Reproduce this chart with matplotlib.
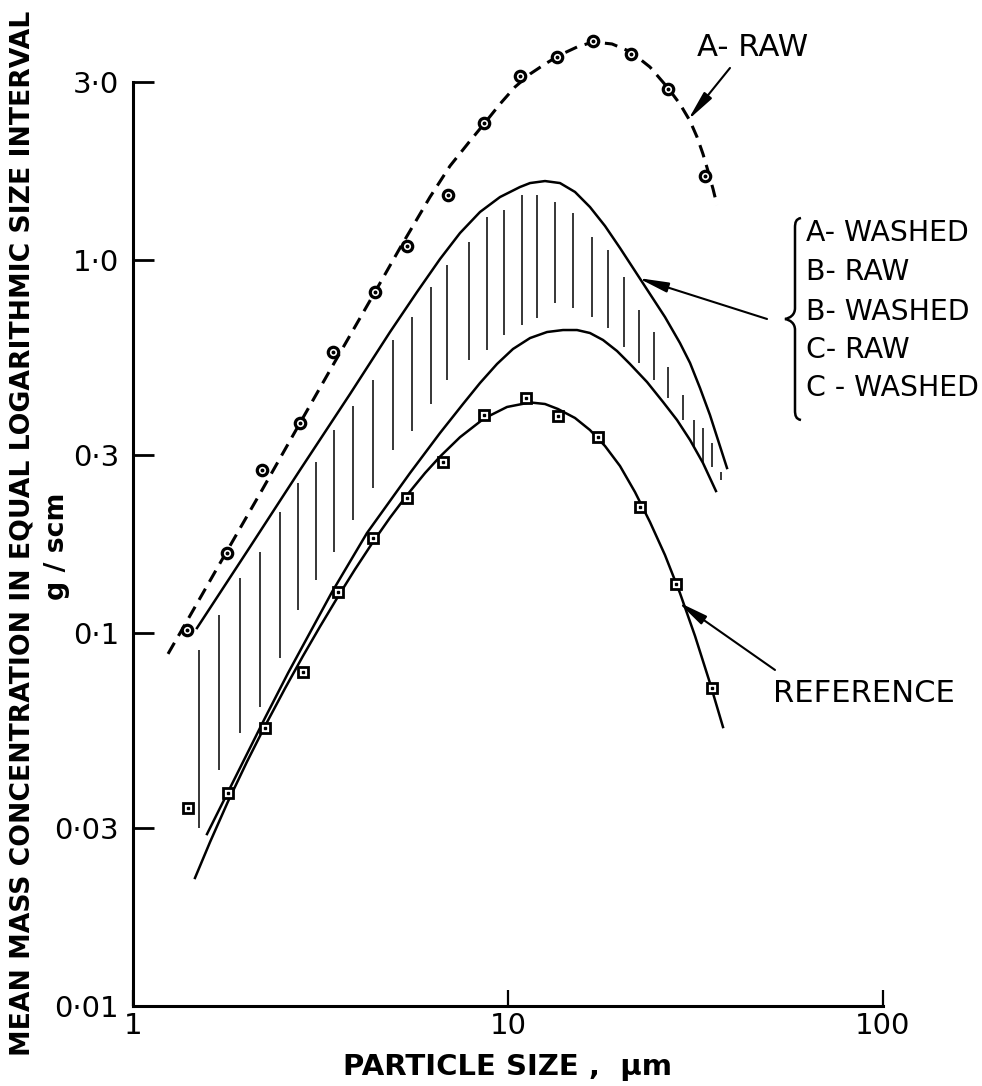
import numpy as np
import matplotlib
matplotlib.use("Agg")
import matplotlib.pyplot as plt
from matplotlib.path import Path
from matplotlib.patches import PathPatch
from matplotlib.transforms import Affine2D

plt.rcParams['font.family'] = ['DejaVu Sans']

# ---------------- data ----------------
# A - RAW measured points (circles)
a_raw_x = [1.39, 1.78, 2.21, 2.79, 3.42, 4.42, 5.38, 6.92, 8.63, 10.76, 13.51, 16.85, 21.28, 26.71, 33.52]
a_raw_y = [0.102, 0.164, 0.274, 0.366, 0.567, 0.821, 1.09, 1.494, 2.329, 3.113, 3.502, 3.865, 3.567, 2.873, 1.680]

# A - RAW dashed curve
a_curve_x = [1.240, 1.393, 1.781, 2.208, 2.788, 3.415, 4.419, 5.152, 6.194, 7.004, 7.918, 8.630, 9.521,
             10.44, 11.45, 12.55, 13.76, 15.28, 16.85, 18.94, 21.28, 23.91, 26.71, 28.74, 30.58, 31.92,
             33.11, 34.15, 35.22, 36.08]
a_curve_y = [0.0879, 0.1077, 0.1659, 0.2416, 0.3656, 0.5230, 0.8208, 1.077, 1.475, 1.787, 2.085, 2.316, 2.620,
             2.910, 3.153, 3.353, 3.545, 3.724, 3.842, 3.795, 3.612, 3.291, 2.892, 2.620, 2.359, 2.137,
             1.924, 1.732, 1.550, 1.404]

# upper envelope of the hatched band
top_x = [1.481, 2.051, 2.788, 3.791, 4.846, 5.720, 6.587, 7.447, 8.421, 9.521, 10.76, 11.45, 12.55, 13.76,
         15.09, 16.54, 18.14, 19.89, 21.81, 23.91, 26.22, 28.74, 30.58, 32.51, 34.56, 38.37]
top_y = [0.1031, 0.1701, 0.2735, 0.4372, 0.6411, 0.8208, 1.006, 1.181, 1.345, 1.475, 1.569, 1.608, 1.628,
         1.608, 1.522, 1.387, 1.234, 1.077, 0.9344, 0.8107, 0.7033, 0.5992, 0.5296, 0.4537, 0.3841, 0.2769]

# lower envelope of the hatched band
mid_x = [1.575, 1.759, 2.249, 2.591, 3.394, 4.207, 5.480, 6.587, 7.586, 8.421, 9.347, 10.31, 11.45, 12.71,
         14.02, 15.28, 16.54, 17.92, 19.53, 21.15, 23.48, 25.91, 28.23, 30.58, 33.11, 35.86]
mid_y = [0.0289, 0.0361, 0.0592, 0.0781, 0.1288, 0.1854, 0.2685, 0.3437, 0.4111, 0.4680, 0.5263, 0.5773,
         0.6177, 0.6411, 0.6490, 0.6490, 0.6372, 0.6103, 0.5702, 0.5263, 0.4709, 0.4162, 0.3724, 0.3292,
         0.2856, 0.2402]

# REFERENCE measured points (squares)
ref_x = [1.402, 1.792, 2.249, 2.840, 3.522, 4.365, 5.379, 6.708, 8.630, 11.17, 13.60, 17.38, 22.49, 28.05, 34.99]
ref_y = [0.0340, 0.0372, 0.0556, 0.0786, 0.1288, 0.1798, 0.2301, 0.2873, 0.3842, 0.4266, 0.3818, 0.3354,
         0.2177, 0.1353, 0.0712]

# REFERENCE fitted curve
refc_x = [1.463, 1.605, 1.792, 2.014, 2.249, 2.543, 2.840, 3.152, 3.521, 3.908, 4.365, 4.846, 5.380, 6.008,
          6.587, 7.447, 8.630, 9.939, 11.45, 12.55, 13.59, 15.09, 16.54, 18.14, 19.89, 21.81, 23.91, 26.22,
          28.74, 31.53, 34.56, 37.44]
refc_y = [0.02204, 0.02752, 0.03534, 0.04520, 0.05630, 0.07103, 0.08678, 0.1040, 0.1252, 0.1481, 0.1754,
          0.2038, 0.2343, 0.2684, 0.2971, 0.3349, 0.3759, 0.4036, 0.4151, 0.4111, 0.3986, 0.3771, 0.3501,
          0.3172, 0.2804, 0.2387, 0.1984, 0.1618, 0.1280, 0.09817, 0.07344, 0.05596]

# vertical hatch strokes: position, upper end, lower end
hatch_x = [1.500, 1.696, 1.929, 2.181, 2.466, 2.754, 3.076, 3.436, 3.861, 4.365, 4.935, 5.546, 6.233,
           6.877, 7.870, 8.790, 9.757, 10.90, 11.95, 13.35, 14.91, 16.75, 18.48, 20.39, 22.35, 24.51,
           26.71, 29.29, 31.33, 33.11, 34.99, 36.98]
hatch_top = [0.0900, 0.1117, 0.1404, 0.1649, 0.2111, 0.2525, 0.2873, 0.3501, 0.4061, 0.4769, 0.6101, 0.7033,
             0.8464, 0.9696, 1.117, 1.304, 1.362, 1.494, 1.494, 1.431, 1.337, 1.153, 1.064, 0.9004, 0.7342,
             0.6411, 0.5166, 0.4346, 0.3724, 0.3545, 0.3231, 0.2702]
hatch_bottom = [0.0300, 0.0429, 0.0539, 0.0633, 0.0857, 0.1153, 0.1387, 0.1649, 0.2009, 0.2447, 0.3095,
                0.3479, 0.4111, 0.4769, 0.5394, 0.5738, 0.6293, 0.6693, 0.6991, 0.7668, 0.7435, 0.7033,
                0.6573, 0.5845, 0.5296, 0.4769, 0.4266, 0.3724, 0.3152, 0.2856, 0.2787, 0.2572]

y_ticks = [0.01, 0.03, 0.1, 0.3, 1.0, 3.0]
y_ticklabels = ['0·01', '0·03', '0·1', '0·3', '1·0', '3·0']
x_ticks = [1, 10, 100]
x_ticklabels = ['1', '10', '100']

legend_items = ['A- WASHED', 'B- RAW', 'B- WASHED', 'C- RAW', 'C - WASHED']

# ---------------- figure ----------------
W, H = 982, 1086
fig = plt.figure(figsize=(W / 100, H / 100), dpi=100)
ax = fig.add_axes([133 / W, 80 / H, 750 / W, 373 * np.log10(500) / H])
ax.set_xscale('log')
ax.set_yscale('log')
ax.set_xlim(1, 100)
ax.set_ylim(0.01, 5)

for s in ['top', 'right']:
    ax.spines[s].set_visible(False)
ax.spines['left'].set_bounds(0.01, 3.0)
ax.spines['bottom'].set_bounds(1, 100)
for s in ['left', 'bottom']:
    ax.spines[s].set_linewidth(2.2)
    ax.spines[s].set_capstyle('projecting')

ax.set_yticks(y_ticks)
ax.set_yticklabels(y_ticklabels)
ax.set_xticks(x_ticks)
ax.set_xticklabels(x_ticklabels)
ax.yaxis.set_minor_locator(matplotlib.ticker.NullLocator())
ax.xaxis.set_minor_locator(matplotlib.ticker.NullLocator())
ax.tick_params(axis='y', direction='in', length=15, width=2.0, pad=10, labelsize=21)
ax.tick_params(axis='x', direction='in', length=11.5, width=1.6, pad=4, labelsize=21)

# hatch strokes
ax.vlines(hatch_x, hatch_bottom, hatch_top, colors='black', lw=1.1, zorder=2)

# curves
ax.plot(top_x, top_y, color='black', lw=1.8, zorder=3, solid_joinstyle='round')
ax.plot(mid_x, mid_y, color='black', lw=1.8, zorder=3, solid_joinstyle='round')
ax.plot(refc_x, refc_y, color='black', lw=1.8, zorder=3, solid_joinstyle='round')
ax.plot(a_curve_x, a_curve_y, color='black', lw=2.2, dashes=(4.2, 2.6), zorder=3, clip_on=False)

# markers
ax.plot(a_raw_x, a_raw_y, 'o', ms=7.5, mfc='white', mec='black', mew=2.3, zorder=5, clip_on=False)
ax.plot(a_raw_x, a_raw_y, 'o', ms=1.8, color='black', zorder=6, clip_on=False)
ax.plot(ref_x, ref_y, 's', ms=7.5, mfc='white', mec='black', mew=2.0, zorder=5, clip_on=False)
ax.plot(ref_x, ref_y, 's', ms=1.8, color='black', zorder=6, clip_on=False)

# arrows
aprops = dict(arrowstyle='-|>,head_length=1.5,head_width=0.25', mutation_scale=12,
              lw=1.5, color='black', shrinkA=0, shrinkB=0)
ax.annotate('', xy=(30.2, 2.373), xytext=(39.08, 3.272), arrowprops=aprops, annotation_clip=False)
ax.annotate('', xy=(22.22, 0.8948), xytext=(49.06, 0.6948), arrowprops=aprops, annotation_clip=False)
ax.annotate('', xy=(28.40, 0.1211), xytext=(51.52, 0.0796), arrowprops=aprops, annotation_clip=False)


def P(x, y):
    return x / W, 1 - y / H


texts_to_fit = []
t_araw = fig.text(*P(697, 47), 'A- RAW', ha='left', va='center', fontsize=20)
texts_to_fit.append((t_araw, 111, 'w'))
leg_texts = []
for lab, yy in zip(legend_items, [233, 272, 312, 350, 388]):
    leg_texts.append(fig.text(*P(806, yy), lab, ha='left', va='center', fontsize=20))
t_ref = fig.text(*P(773, 694), 'REFERENCE', ha='left', va='center', fontsize=20)
texts_to_fit.append((t_ref, 182, 'w'))
t_xl = fig.text(*P(507, 1067), 'PARTICLE SIZE ,  µm', ha='center', va='center', fontsize=20,
                fontweight='bold')
texts_to_fit.append((t_xl, 329, 'w'))
t_yl = fig.text(*P(23, 533), 'MEAN MASS CONCENTRATION IN EQUAL LOGARITHMIC SIZE INTERVAL',
                ha='center', va='center', rotation=90, fontsize=20, fontweight='bold')
texts_to_fit.append((t_yl, 1040, 'h'))
t_unit = fig.text(*P(57, 546), 'g / scm', ha='center', va='center', rotation=90, fontsize=20,
                  fontweight='bold')
texts_to_fit.append((t_unit, 107, 'h'))

fig.canvas.draw()
r = fig.canvas.get_renderer()
for t, target, d in texts_to_fit:
    bb = t.get_window_extent(r)
    cur = bb.width if d == 'w' else bb.height
    t.set_fontsize(t.get_fontsize() * target / cur)
bb = leg_texts[0].get_window_extent(r)
fs = 20 * 163 / bb.width
for t in leg_texts:
    t.set_fontsize(fs)

# curly brace of the legend group
verts = [(801, 218), (796, 219), (795, 222), (795, 228),
         (795, 308),
         (795, 315), (790, 318), (785, 319),
         (790, 320), (795, 323), (795, 330),
         (795, 410),
         (795, 416), (796, 419), (801, 420)]
codes = [Path.MOVETO, Path.CURVE4, Path.CURVE4, Path.CURVE4,
         Path.LINETO,
         Path.CURVE4, Path.CURVE4, Path.CURVE4,
         Path.CURVE4, Path.CURVE4, Path.CURVE4,
         Path.LINETO,
         Path.CURVE4, Path.CURVE4, Path.CURVE4]
pix = Affine2D().scale(1 / W, -1 / H).translate(0, 1) + fig.transFigure
fig.patches.append(PathPatch(Path(verts, codes), transform=pix, fill=False, lw=1.8,
                             edgecolor='black', figure=fig))

fig.savefig('out.png', dpi=100)
